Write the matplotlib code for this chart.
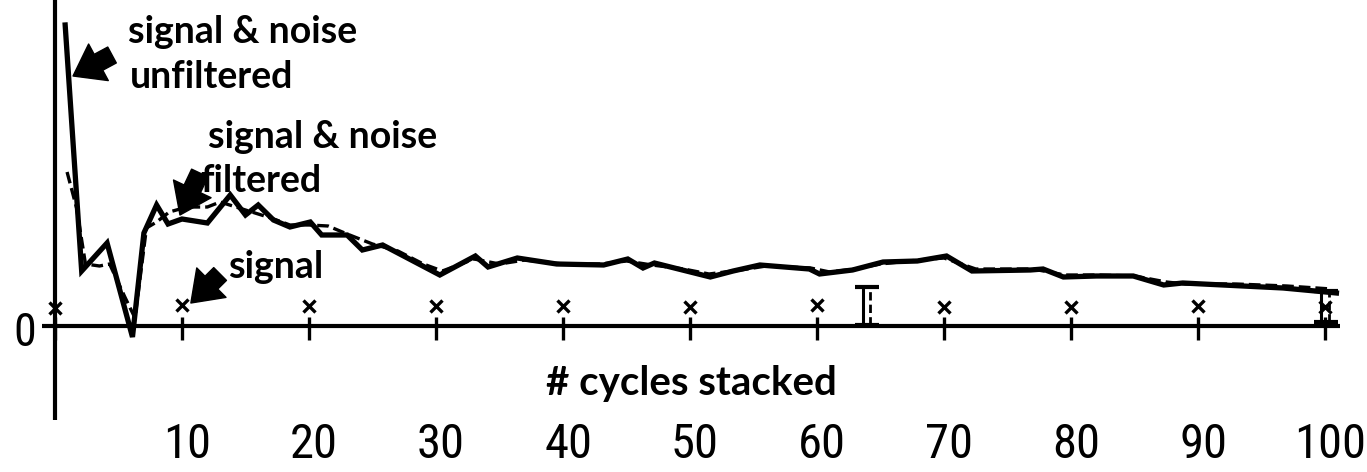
import matplotlib
matplotlib.use("Agg")
import matplotlib.pyplot as plt
from matplotlib import font_manager

# amplitude, same arbitrary units on both curves
cycles_raw = [0.8, 2.1, 4.1, 6.1, 7.0, 8.0, 8.9, 10.0, 12.0, 13.8, 15.0, 16.0, 17.2, 18.5,
              20.1, 21.0, 23.0, 24.2, 25.8, 28.2, 30.3, 33.1, 34.1, 36.4, 39.5, 43.2, 45.1,
              46.3, 47.2, 49.4, 51.6, 53.4, 55.5, 59.4, 60.2, 62.8, 65.2, 67.9, 70.2, 72.2,
              76.8, 77.8, 79.4, 82.0, 84.9, 87.3, 88.8, 96.7, 100.9]
amp_raw = [301, 55, 83, -11, 93, 121, 102, 107, 103, 131, 111, 121, 106, 99,
           104, 91, 91, 76, 81, 65, 51, 70, 59, 68, 62, 61, 67,
           58, 63, 56, 49, 55, 61, 57, 52, 56, 64, 65, 70, 55,
           56, 57, 49, 50, 50, 41, 43, 38, 33]

cycles_filt = [0.95, 1.7, 2.4, 3.5, 4.3, 5.5, 6.3, 7.2, 8.0, 9.0, 10.4, 12.0, 13.0, 15.0,
               17.0, 18.5, 20.0, 21.5, 23.0, 25.0, 27.0, 29.0, 30.5, 33.0, 35.0, 37.0, 40.0,
               43.0, 45.0, 47.0, 49.5, 51.5, 54.0, 56.0, 59.5, 61.0, 63.0, 65.0, 68.0, 70.0,
               72.5, 77.0, 79.5, 82.0, 85.0, 87.5, 89.0, 93.0, 97.0, 100.5]
amp_filt = [154, 118, 62, 60, 62, 29, 8, 98, 104, 114, 119, 119, 124, 116,
            108, 101, 101, 100, 92, 82, 75, 62, 55, 67, 62, 66, 62,
            62, 65, 61, 57, 52, 56, 60, 58, 54, 57, 62, 66, 68,
            57, 57, 51, 51, 50, 44, 42, 42, 40, 37]

sig_cycles = [0, 10, 20, 30, 40, 50, 60, 70, 80, 90, 100]
sig_amp = [18, 21, 20, 20, 20, 19, 21, 19, 19, 20, 19]

err_cycles = [63.9, 100.0]
err_lo = [1, 4]
err_hi = [39, 35]

tick_pos = [0, 10, 20, 30, 40, 50, 60, 70, 80, 90, 100]
tick_labels = ["", "10", "20", "30", "40", "50", "60", "70", "80", "90", "100"]

names = {f.name for f in font_manager.fontManager.ttflist}
narrow = "Lato"
digit_size = 28
for cand in ["Roboto Condensed", "Liberation Sans Narrow", "Open Sans Condensed"]:
    if cand in names:
        narrow = cand
        digit_size = 35
        break
word_font = ["Lato", "DejaVu Sans"]

fig = plt.figure(figsize=(13.67, 4.72), dpi=100)
ax = fig.add_axes([0, 0, 1, 1])
ax.set_xlim(-55 / 12.7, (1367 - 55) / 12.7)
ax.set_ylim(-146, 326)
ax.axis("off")

# axes drawn by hand, like the hand-inked original
ax.hlines(0, -1.0, 101.2, color="black", lw=3.0)
ax.vlines(0, -94, 330, color="black", lw=3.0)
ax.vlines(tick_pos, -14, 9, color="black", lw=2.4)
for p, lab in zip(tick_pos, tick_labels):
    ax.text(p + 0.4, -132, lab, ha="center", va="baseline", fontsize=digit_size,
            family=[narrow, "DejaVu Sans"])
ax.text(-2.4, -7, "0", ha="center", va="center", fontsize=33, family=[narrow, "DejaVu Sans"])

ax.plot(cycles_raw, amp_raw, color="black", lw=3.8, solid_joinstyle="miter")
ax.plot(cycles_filt, amp_filt, color="black", lw=2.4, ls=(0, (3.5, 1.5)))
ax.plot(sig_cycles, sig_amp, ls="none", marker="x", ms=8.5, mew=2.4, color="black")

# error bars: solid + dashed upright with caps
for xc, lo, hi in zip(err_cycles, err_lo, err_hi):
    ax.vlines(xc - 0.3, lo, hi, color="black", lw=2.2)
    ax.vlines(xc + 0.3, lo, hi, color="black", lw=2.0, linestyles=(0, (3, 1.5)))
    ax.hlines([lo, hi], xc - 0.9, xc + 1.0, color="black", lw=3.0)

ax.text(5.75, 283, "signal & noise", fontsize=27, weight="bold", family=word_font)
ax.text(5.9, 238, "unfiltered", fontsize=27, weight="bold", family=word_font)
ax.text(12.05, 178, "signal & noise", fontsize=27, weight="bold", family=word_font)
ax.text(11.4, 134, "filtered", fontsize=27, weight="bold", family=word_font)
ax.text(13.6, 48, "signal", fontsize=27, weight="bold", family=word_font)
ax.text(38.7, -69, "# cycles stacked", fontsize=29, weight="bold", family=word_font)

arrow = dict(arrowstyle="simple,head_length=0.8,head_width=1.15,tail_width=0.5",
             color="black", mutation_scale=26, shrinkA=0, shrinkB=0)
ax.annotate("", xy=(1.42, 250), xytext=(4.49, 271), arrowprops=arrow)
ax.annotate("", xy=(9.84, 111), xytext=(11.4, 153), arrowprops=arrow)
ax.annotate("", xy=(10.7, 23), xytext=(13.0, 52), arrowprops=arrow)

fig.savefig("out.png", dpi=100)
